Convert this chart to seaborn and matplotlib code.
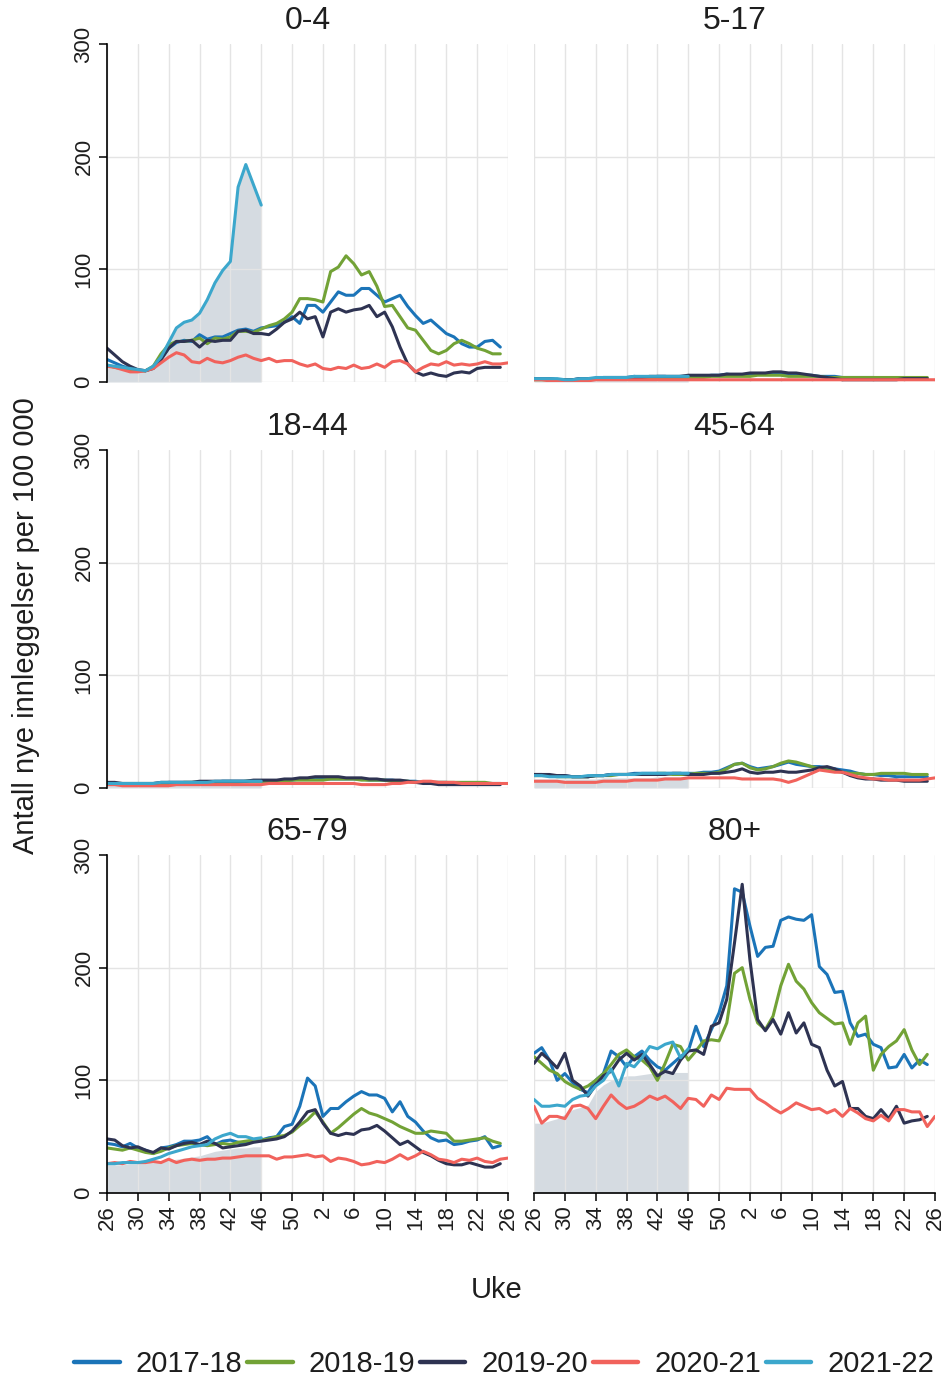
import numpy as np
import pandas as pd
import matplotlib
matplotlib.use("Agg")
import matplotlib.pyplot as plt
from matplotlib.lines import Line2D
import seaborn as sns

# Seasons, colours and age groups
sesonger = ["2017-18", "2018-19", "2019-20", "2020-21", "2021-22"]
farger = ["#1b74b8", "#72a236", "#2e3352", "#f1625c", "#3ca7cc"]
aldersgrupper = ["0-4", "5-17", "18-44", "45-64", "65-79", "80+"]

# Week axis: season runs from week 26 to week 26 the next year
uke_pos = list(range(0, 53, 4))
uke_etiketter = ["26", "30", "34", "38", "42", "46", "50", "2", "6", "10", "14", "18", "22", "26"]

# New admissions per 100 000, one list per season (2020-21 has 53 weeks,
# 2021-22 runs up to week 46)
r17_04 = [20, 17, 14, 12, 10, 10, 13, 20, 30, 35, 37, 36, 42, 38, 40, 40, 43, 46, 47, 45,
          48, 49, 50, 53, 58, 52, 68, 68, 62, 71, 80, 77, 77, 83, 83, 77, 71, 74, 77, 67,
          59, 52, 55, 49, 43, 40, 34, 31, 31, 36, 37, 31]
r18_04 = [15, 13, 12, 11, 10, 10, 14, 25, 33, 36, 36, 37, 39, 34, 39, 38, 40, 45, 45, 44,
          47, 50, 52, 56, 62, 74, 74, 73, 71, 98, 102, 112, 105, 95, 98, 85, 67, 68, 58, 48,
          46, 37, 28, 25, 28, 34, 37, 34, 30, 28, 25, 25]
r19_04 = [30, 24, 18, 14, 11, 10, 12, 20, 30, 36, 36, 37, 31, 37, 36, 37, 37, 45, 46, 43,
          43, 42, 47, 53, 56, 62, 56, 58, 40, 62, 65, 62, 64, 65, 68, 58, 62, 49, 31, 16,
          9, 6, 8, 6, 5, 8, 9, 8, 12, 13, 13, 13]
r20_04 = [14, 13, 11, 9, 9, 10, 12, 17, 22, 26, 24, 18, 17, 21, 18, 17, 19, 22, 24, 21,
          19, 21, 18, 19, 19, 16, 14, 16, 12, 11, 13, 12, 15, 12, 13, 16, 13, 18, 19, 16,
          9, 13, 16, 15, 18, 15, 16, 15, 16, 18, 16, 16, 17]
r21_04 = [15, 14, 13, 12, 11, 10, 14, 22, 35, 48, 53, 55, 61, 73, 88, 99, 107, 173, 193, 175, 157]

r17_517 = [3, 3, 3, 2, 2, 2, 3, 3, 3, 4, 4, 4, 4, 5, 4, 4, 5, 5, 4, 5,
           5, 5, 5, 6, 6, 7, 6, 6, 6, 7, 7, 8, 7, 7, 6, 6, 6, 5, 5, 5,
           4, 4, 4, 4, 4, 3, 3, 3, 3, 3, 3, 3]
r18_517 = [2, 2, 2, 2, 2, 2, 2, 3, 3, 3, 3, 3, 3, 3, 3, 3, 3, 4, 4, 4,
           4, 4, 4, 5, 5, 5, 5, 5, 5, 6, 6, 6, 6, 5, 5, 5, 5, 5, 4, 4,
           4, 4, 4, 4, 4, 4, 4, 4, 4, 4, 4, 4]
r19_517 = [3, 3, 3, 2, 2, 2, 3, 3, 3, 4, 4, 4, 4, 4, 4, 5, 5, 5, 5, 5,
           6, 6, 6, 6, 6, 7, 7, 7, 8, 8, 8, 9, 9, 8, 8, 7, 6, 5, 4, 3,
           2, 2, 2, 2, 2, 2, 2, 2, 3, 3, 3, 3]
r20_517 = [2, 2, 1, 1, 1, 1, 1, 1, 2, 2, 2, 2, 2, 2, 2, 2, 2, 2, 2, 2,
           2, 2, 2, 2, 2, 2, 2, 2, 2, 2, 2, 2, 2, 2, 2, 2, 2, 2, 2, 2,
           2, 2, 2, 2, 2, 2, 2, 2, 2, 2, 2, 2, 2]
r21_517 = [3, 3, 3, 3, 2, 2, 3, 3, 4, 4, 4, 4, 4, 5, 5, 5, 5, 5, 5, 5, 5]

r17_1844 = [4, 4, 4, 4, 4, 4, 4, 4, 5, 5, 5, 5, 5, 5, 5, 6, 6, 6, 6, 6,
            6, 6, 6, 7, 7, 8, 8, 8, 8, 8, 8, 8, 8, 8, 7, 7, 7, 7, 6, 6,
            6, 5, 5, 5, 5, 4, 4, 4, 4, 4, 4, 4]
r18_1844 = [4, 4, 4, 4, 4, 4, 4, 4, 4, 4, 5, 5, 5, 5, 5, 5, 5, 5, 6, 6,
            6, 6, 6, 6, 7, 7, 7, 7, 7, 8, 8, 8, 8, 7, 7, 7, 7, 6, 6, 6,
            5, 5, 5, 5, 5, 5, 5, 5, 5, 5, 4, 4]
r19_1844 = [5, 5, 4, 4, 4, 4, 4, 5, 5, 5, 5, 5, 6, 6, 6, 6, 6, 6, 6, 7,
            7, 7, 7, 8, 8, 9, 9, 10, 10, 10, 10, 9, 9, 9, 8, 8, 7, 7, 7, 6,
            5, 4, 4, 3, 3, 3, 3, 3, 3, 3, 3, 3]
r20_1844 = [3, 3, 2, 2, 2, 2, 2, 2, 2, 3, 3, 3, 3, 3, 3, 3, 3, 3, 3, 3,
            3, 4, 4, 4, 4, 4, 4, 4, 4, 4, 4, 4, 4, 3, 3, 3, 3, 4, 4, 5,
            5, 6, 6, 5, 5, 5, 4, 4, 4, 4, 4, 4, 4]
r21_1844 = [4, 4, 4, 4, 4, 4, 4, 5, 5, 5, 5, 5, 5, 5, 6, 6, 6, 6, 6, 6, 6]

r17_4564 = [12, 12, 11, 11, 11, 10, 10, 10, 11, 11, 12, 12, 12, 13, 13, 13, 13, 13, 13, 13,
            13, 13, 14, 14, 15, 18, 21, 22, 19, 17, 18, 19, 21, 23, 21, 20, 19, 19, 18, 17,
            16, 15, 13, 12, 12, 11, 11, 10, 10, 10, 10, 10]
r18_4564 = [11, 11, 11, 10, 10, 10, 10, 10, 11, 11, 11, 12, 12, 12, 12, 12, 13, 13, 12, 12,
            12, 13, 13, 13, 14, 17, 21, 22, 18, 16, 17, 19, 22, 24, 23, 21, 19, 17, 16, 15,
            14, 13, 13, 12, 12, 13, 13, 13, 13, 12, 12, 12]
r19_4564 = [12, 12, 12, 11, 11, 10, 10, 10, 11, 11, 12, 12, 12, 12, 12, 12, 12, 12, 13, 13,
            12, 12, 12, 13, 13, 14, 15, 17, 14, 13, 14, 14, 15, 14, 14, 15, 16, 18, 19, 17,
            14, 11, 9, 8, 8, 7, 7, 7, 6, 6, 6, 6]
r20_4564 = [6, 6, 6, 6, 5, 5, 5, 5, 5, 6, 6, 6, 6, 7, 7, 7, 7, 8, 8, 8,
            9, 9, 9, 9, 9, 9, 9, 8, 8, 8, 8, 8, 7, 5, 7, 10, 13, 16, 15, 14,
            14, 12, 10, 9, 8, 8, 7, 7, 7, 7, 7, 8, 9]
r21_4564 = [11, 11, 10, 10, 10, 10, 10, 11, 11, 11, 12, 12, 12, 12, 13, 13, 13, 13, 13, 13, 13]

r17_6579 = [44, 43, 41, 44, 40, 38, 35, 40, 41, 43, 46, 46, 47, 50, 43, 46, 47, 45, 44, 46,
            47, 49, 50, 59, 61, 77, 102, 95, 68, 75, 75, 81, 86, 90, 87, 87, 84, 72, 81, 68,
            63, 55, 49, 46, 47, 43, 44, 46, 47, 50, 40, 42]
r18_6579 = [40, 39, 38, 40, 38, 36, 35, 37, 40, 42, 43, 44, 43, 42, 43, 44, 43, 45, 46, 47,
            47, 48, 50, 51, 54, 60, 65, 72, 63, 53, 58, 64, 70, 75, 71, 69, 66, 63, 59, 56,
            53, 53, 55, 54, 53, 46, 46, 47, 48, 49, 46, 44]
r19_6579 = [48, 47, 42, 40, 41, 38, 36, 40, 39, 42, 44, 45, 43, 46, 44, 40, 41, 42, 43, 45,
            46, 47, 48, 50, 55, 63, 72, 74, 62, 53, 51, 53, 52, 56, 57, 60, 55, 49, 43, 46,
            41, 36, 33, 29, 26, 25, 25, 27, 25, 23, 23, 26]
r20_6579 = [26, 27, 26, 28, 27, 27, 28, 27, 30, 27, 29, 30, 29, 30, 30, 31, 31, 32, 33, 33,
            33, 33, 30, 32, 32, 33, 34, 32, 33, 28, 31, 30, 28, 25, 26, 28, 27, 30, 34, 30,
            33, 37, 34, 30, 29, 27, 30, 29, 31, 28, 27, 30, 31]
r21_6579 = [26, 26, 27, 27, 27, 28, 30, 32, 35, 37, 39, 41, 42, 43, 48, 51, 53, 50, 50, 48, 49]

r17_80 = [124, 129, 118, 100, 106, 98, 92, 89, 100, 106, 126, 121, 112, 121, 126, 118, 112, 109, 115, 121,
          126, 148, 130, 145, 160, 184, 270, 267, 237, 210, 218, 219, 242, 245, 243, 242, 247, 201, 194, 178,
          179, 151, 139, 141, 132, 129, 111, 112, 123, 111, 118, 114]
r18_80 = [121, 115, 109, 106, 99, 95, 92, 95, 100, 106, 114, 123, 127, 121, 118, 112, 100, 115, 132, 130,
          118, 126, 135, 136, 135, 151, 195, 200, 172, 151, 145, 157, 184, 203, 188, 181, 169, 160, 155, 150,
          151, 132, 151, 157, 109, 123, 130, 135, 145, 127, 114, 123]
r19_80 = [115, 124, 118, 111, 124, 100, 95, 86, 96, 104, 108, 118, 124, 118, 123, 114, 104, 108, 106, 118,
          126, 127, 123, 148, 151, 172, 222, 274, 207, 154, 144, 154, 141, 160, 142, 151, 132, 129, 109, 95,
          99, 75, 75, 68, 66, 74, 66, 77, 62, 64, 65, 68]
r20_80 = [77, 62, 68, 68, 66, 77, 78, 75, 66, 77, 87, 80, 75, 77, 81, 86, 83, 86, 81, 75,
          84, 83, 77, 87, 83, 93, 92, 92, 92, 84, 80, 75, 71, 75, 80, 77, 74, 75, 71, 74,
          68, 75, 71, 66, 64, 69, 64, 74, 74, 72, 72, 59, 68]
r21_80 = [83, 77, 77, 78, 77, 83, 86, 87, 95, 100, 110, 95, 115, 112, 120, 130, 128, 132, 134, 120, 128]

# Shaded area for the current season
skygge_04 = r21_04
skygge_517 = [2, 2, 2, 2, 2, 2, 2, 2, 2, 2, 2, 2, 3, 3, 3, 3, 3, 3, 3, 3, 3]
skygge_1844 = [3, 3, 3, 3, 3, 3, 3, 3, 3, 3, 3, 3, 3, 3, 3, 3, 4, 4, 4, 4, 4]
skygge_4564 = [8, 8, 8, 8, 8, 8, 8, 8, 8, 9, 9, 9, 9, 9, 9, 9, 10, 10, 10, 10, 10]
skygge_6579 = [25, 25, 25, 26, 26, 27, 27, 28, 29, 30, 31, 32, 33, 35, 37, 38, 39, 40, 40, 41, 41]
skygge_80 = [62, 62, 64, 66, 70, 74, 76, 78, 90, 96, 100, 102, 104, 104, 105, 106, 106, 107, 107, 107, 107]

serier = {
    "0-4": [r17_04, r18_04, r19_04, r20_04, r21_04],
    "5-17": [r17_517, r18_517, r19_517, r20_517, r21_517],
    "18-44": [r17_1844, r18_1844, r19_1844, r20_1844, r21_1844],
    "45-64": [r17_4564, r18_4564, r19_4564, r20_4564, r21_4564],
    "65-79": [r17_6579, r18_6579, r19_6579, r20_6579, r21_6579],
    "80+": [r17_80, r18_80, r19_80, r20_80, r21_80],
}
skygger = {
    "0-4": skygge_04, "5-17": skygge_517, "18-44": skygge_1844,
    "45-64": skygge_4564, "65-79": skygge_6579, "80+": skygge_80,
}

rader = []
for alder, liste in serier.items():
    for sesong, verdier in zip(sesonger, liste):
        for i, v in enumerate(verdier):
            rader.append((alder, sesong, i, v))
df = pd.DataFrame(rader, columns=["alder", "sesong", "uke", "rate"])

sns.set_theme(style="white")
tekstfarge = "#1e1e1e"
plt.rcParams["font.family"] = ["Liberation Sans", "DejaVu Sans"]

W, H = 948, 1377
fig = plt.figure(figsize=(W / 100, H / 100), dpi=100)
fig.patch.set_facecolor("white")

venstre = [107 / W, 534 / W]
bunn = [1 - 382 / H, 1 - 788 / H, 1 - 1193 / H]
bredde = 401 / W
hoyde = 338 / H

for k, alder in enumerate(aldersgrupper):
    r, c = divmod(k, 2)
    ax = fig.add_axes([venstre[c], bunn[r], bredde, hoyde])
    ax.set_facecolor("white")

    sk = skygger[alder]
    ax.fill_between(np.arange(len(sk)), 0, sk, color="#d5dbe1", lw=0, zorder=0.3)

    sns.lineplot(data=df[df["alder"] == alder], x="uke", y="rate", hue="sesong",
                 hue_order=sesonger, palette=farger, linewidth=2.2, errorbar=None,
                 legend=False, ax=ax, zorder=2)

    ax.set_xlim(0, 52)
    ax.set_ylim(0, 300)
    ax.set_xticks(uke_pos)
    ax.set_yticks([0, 100, 200, 300])
    ax.set_xlabel("")
    ax.set_ylabel("")
    ax.set_axisbelow(True)
    ax.grid(True, color="#e4e4e4", lw=1.0)
    ax.get_ygridlines()[-1].set_visible(False)

    for s in ax.spines.values():
        s.set_visible(False)

    if c == 0:
        ax.spines["left"].set_visible(True)
        ax.spines["left"].set_color("black")
        ax.spines["left"].set_linewidth(1.2)
        ax.tick_params(axis="y", left=True, length=6, width=1.1, color="black",
                       labelsize=16, labelcolor=tekstfarge, pad=3)
        for t in ax.get_yticklabels():
            t.set_rotation(90)
            t.set_va("center")
    else:
        ax.tick_params(axis="y", left=False, labelleft=False)

    if r == 2:
        ax.spines["bottom"].set_visible(True)
        ax.spines["bottom"].set_color("black")
        ax.spines["bottom"].set_linewidth(1.2)
        ax.set_xticklabels(uke_etiketter)
        ax.tick_params(axis="x", bottom=True, length=6, width=1.1, color="black",
                       labelsize=16, labelcolor=tekstfarge, labelrotation=90, pad=3)
    else:
        ax.tick_params(axis="x", bottom=False, labelbottom=False)

    ax.text(0.5, 1 + 23 / 338, alder, transform=ax.transAxes, ha="center", va="center",
            fontsize=23, color=tekstfarge)

fig.text(497 / W, 1 - 1290 / H, "Uke", ha="center", va="center", fontsize=21,
         color=tekstfarge)
fig.text(26 / W, 1 - 626 / H, "Antall nye innleggelser per 100 000", ha="center",
         va="center", rotation=90, fontsize=21, color=tekstfarge)

handles = [Line2D([], [], color=f, lw=3.2) for f in farger]
leg = fig.legend(handles, sesonger, loc="center", bbox_to_anchor=(0.532, 13 / H), ncol=5,
                 frameon=False, handlelength=1.55, handletextpad=0.55, columnspacing=0.17,
                 borderaxespad=0, borderpad=0, prop={"size": 21})
for t in leg.get_texts():
    t.set_color(tekstfarge)

fig.savefig("out.png", dpi=100, facecolor="white")
